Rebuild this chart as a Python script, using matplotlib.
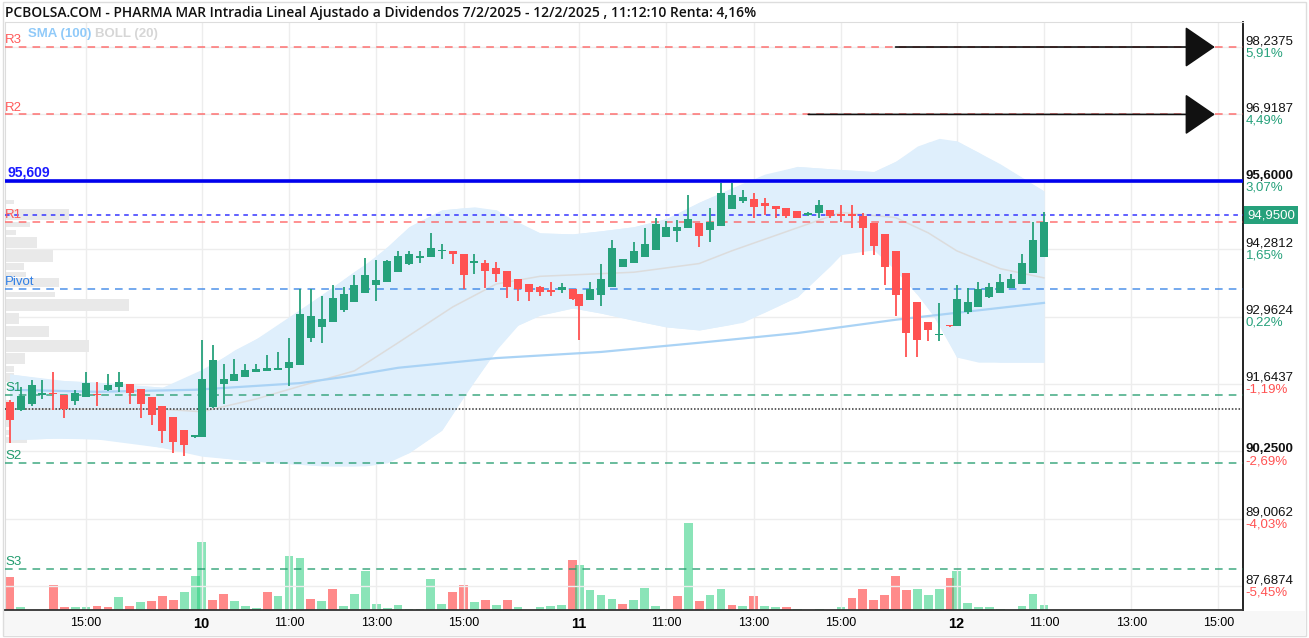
import matplotlib
matplotlib.use("Agg")
import matplotlib.pyplot as plt
from matplotlib import transforms
from matplotlib.patches import Rectangle
from matplotlib.patches import ArrowStyle
import numpy as np

TITLE = "PCBOLSA.COM - PHARMA MAR Intradia Lineal Ajustado a Dividendos 7/2/2025 - 12/2/2025 , 11:12:10 Renta: 4,16%"

# trading days shown and their bars (15 min candles)
days = ['7', '10', '11', '12']
day_first_bar = ['13:15', '09:00', '09:00', '09:00']
day_bar_count = [18, 35, 35, 9]
SESSION_MIN = 519   # room one session takes on the axis, in minutes
BAR_MIN = 15

opens = [
    91.30, 91.13, 91.25, 91.43, 91.46, 91.42, 91.31, 91.39, 91.43, 91.53, 91.58, 91.64, 91.54, 91.39, 91.22, 90.99, 90.74, 90.60,
    90.61, 91.19, 91.65, 91.71, 91.78, 91.87, 91.89, 91.91, 91.95, 92.01, 92.54, 92.75, 92.86, 93.09, 93.24, 93.42, 93.58, 93.64,
    93.83, 93.99, 94.10, 94.12, 94.24, 94.24, 94.19, 94.01, 94.02, 93.91, 93.86, 93.70, 93.60, 93.54, 93.46, 93.49, 93.51,
    93.41, 93.29, 93.38, 93.55, 93.93, 94.01, 94.13, 94.27, 94.51, 94.64, 94.69, 94.79, 94.66, 94.73, 95.07, 95.22, 95.26, 95.19,
    95.13, 95.09, 95.02, 94.95, 94.98, 95.04, 94.95, 94.97, 94.94, 94.80, 94.57, 94.25, 93.81, 93.24, 92.86, 92.60, 92.80,
    92.78, 93.06, 93.14, 93.35, 93.43, 93.53, 93.60, 93.82, 94.13]
highs = [
    91.32, 91.59, 91.72, 91.72, 91.88, 91.42, 91.53, 91.88, 91.69, 91.84, 91.88, 91.64, 91.54, 91.39, 91.22, 90.99, 90.74, 90.65,
    92.50, 92.41, 92.03, 92.13, 92.03, 92.03, 92.21, 92.27, 92.54, 93.50, 93.50, 93.37, 93.58, 93.54, 93.77, 94.11, 94.07, 94.06,
    94.25, 94.25, 94.25, 94.59, 94.38, 94.24, 94.19, 94.18, 94.07, 94.03, 93.86, 93.70, 93.60, 93.56, 93.64, 93.61, 93.51,
    93.41, 93.64, 93.99, 94.47, 94.09, 94.42, 94.69, 94.89, 94.83, 94.85, 95.34, 94.79, 95.08, 95.57, 95.57, 95.43, 95.38, 95.28,
    95.13, 95.09, 95.02, 95.00, 95.24, 95.04, 95.15, 95.15, 94.98, 94.80, 94.57, 94.25, 93.81, 93.24, 92.86, 93.22, 92.80,
    93.58, 93.52, 93.64, 93.61, 93.79, 93.79, 94.19, 94.82, 95.00]
lows = [
    90.49, 91.11, 91.22, 91.35, 91.13, 90.98, 91.24, 91.39, 91.21, 91.51, 91.49, 91.26, 90.98, 90.84, 90.49, 90.29, 90.23, 90.58,
    90.61, 91.17, 91.26, 91.71, 91.77, 91.87, 91.89, 91.91, 91.61, 92.01, 92.47, 92.44, 92.86, 93.06, 93.24, 93.42, 93.27, 93.64,
    93.83, 93.98, 94.02, 94.12, 94.08, 93.99, 93.50, 93.79, 93.53, 93.64, 93.32, 93.27, 93.27, 93.36, 93.36, 93.42, 93.28,
    92.50, 93.29, 93.17, 93.55, 93.93, 94.01, 94.13, 94.27, 94.51, 94.42, 94.69, 94.33, 94.42, 94.73, 95.07, 95.18, 94.89, 94.95,
    94.89, 94.89, 94.89, 94.93, 94.89, 94.89, 94.82, 94.69, 94.17, 94.17, 93.58, 92.97, 92.18, 92.18, 92.49, 92.49, 92.75,
    92.78, 93.02, 93.14, 93.32, 93.43, 93.53, 93.60, 93.82, 94.13]
closes = [
    90.94, 91.41, 91.62, 91.47, 91.44, 91.16, 91.47, 91.67, 91.42, 91.62, 91.69, 91.47, 91.26, 91.04, 90.73, 90.50, 90.45, 90.65,
    91.74, 92.11, 91.74, 91.84, 91.91, 91.93, 91.96, 91.96, 92.08, 93.01, 92.98, 92.92, 93.33, 93.40, 93.58, 93.77, 93.68, 94.05,
    94.14, 94.19, 94.14, 94.30, 94.26, 94.19, 93.77, 94.05, 93.85, 93.80, 93.55, 93.50, 93.44, 93.44, 93.45, 93.55, 93.30,
    93.17, 93.50, 93.70, 94.31, 94.09, 94.24, 94.38, 94.78, 94.72, 94.72, 94.87, 94.53, 94.82, 95.39, 95.35, 95.31, 95.10, 95.13,
    95.06, 94.94, 94.90, 94.98, 95.15, 94.93, 94.93, 94.94, 94.69, 94.34, 93.93, 93.39, 92.65, 92.50, 92.70, 92.62, 92.77,
    93.30, 93.25, 93.50, 93.54, 93.63, 93.70, 94.02, 94.46, 94.82]

# volume (relative units) and its colour per bar: G up, R down
volumes = [
    32.7, 2.7, 0, 0, 25.3, 2.7, 2.7, 2.7, 4, 2.7, 12.7, 4, 7.7, 9.3, 14, 10.3, 17.7, 34,
    67.7, 10.3, 16.3, 9, 4, 1.7, 18, 14, 54, 52.3, 11.3, 9, 21.3, 3.7, 16.3, 38.7, 6, 2.3, 4.7, 1.3, 1.3, 31.3,
    6, 18, 25, 7.7, 10, 4.7, 10, 2.7, 0, 2.7, 3.7, 4.7, 50,
    45.3, 20, 14.7, 11, 6, 10, 22.3, 3.7, 1.3, 13.7, 87.3, 8.7, 14.7, 21, 5, 3.7, 13.7, 3.7, 2.7, 2.7, 1.3, 0,
    1.3, 0, 2.7, 12.3, 21.3, 10, 15, 33.7, 20, 21.3, 15, 21.3, 32.3,
    39.3, 7.3, 2.7, 2.7, 1.3, 0, 3.7, 16, 5]
vol_dir = ("RGGGRRGGRRGRGRRRGG"
           "GRRGGGRGGGRGRGGGGGGGGGGRRGRGRGGGGGR"
           "GGGGRGGGGRGRGGRGRGGRGGGGGRRRRRRGGGR"
           "GGGGGGGGG")

# Bollinger (20) and SMA (100), read at some bars (bar number -> price)
boll_up_bar = [0, 4, 8, 14, 17, 21, 24, 27, 30, 32, 34, 37, 40, 43, 45, 47, 49, 52, 55, 58, 61, 64, 67, 70, 73, 77, 80, 82, 84, 86, 88, 92, 96]
boll_up = [91.84, 91.72, 91.68, 91.58, 91.80, 92.31, 92.64, 93.09, 93.54, 93.85, 94.13, 94.72, 95.05, 95.11, 95.05, 94.79, 94.60,
           94.58, 94.64, 94.72, 94.88, 95.20, 95.48, 95.75, 95.90, 95.84, 95.80, 96.00, 96.30, 96.45, 96.40, 95.95, 95.42]
boll_lo_bar = [0, 5, 10, 14, 18, 23, 29, 33, 35, 37, 40, 42, 45, 46, 49, 52, 55, 58, 61, 64, 68, 73, 76, 78, 80, 82, 85, 88, 90, 96]
boll_lo = [90.55, 90.59, 90.55, 90.40, 90.23, 90.13, 90.04, 90.04, 90.10, 90.30, 90.74, 91.40, 92.31, 92.70, 92.99, 93.13, 93.03,
           92.89, 92.76, 92.70, 92.85, 93.35, 93.95, 94.40, 94.27, 93.87, 93.15, 92.17, 92.07, 92.07]
boll_mid_bar = [0, 5, 14, 18, 23, 27, 32, 36, 41, 45, 49, 58, 64, 67, 73, 77, 82, 85, 88, 92, 96]
boll_mid = [91.15, 91.15, 91.15, 91.10, 91.35, 91.60, 91.90, 92.45, 93.15, 93.60, 93.75, 93.83, 94.00, 94.25, 94.70, 95.00,
            94.90, 94.60, 94.25, 93.90, 93.72]
sma_bar = [0, 8, 17, 27, 31, 36, 45, 55, 64, 73, 82, 96]
sma100 = [91.53, 91.49, 91.53, 91.66, 91.78, 91.96, 92.15, 92.27, 92.45, 92.64, 92.90, 93.23]

# volume at price profile (left side)
vp_price = [95.20, 94.96, 94.76, 94.61, 94.41, 94.15, 93.94, 93.78, 93.63, 93.39, 93.19, 92.93, 92.67, 92.39, 92.14,
            91.94, 91.77, 91.23, 90.90, 90.70, 90.55]
vp_height = [0.08, 0.21, 0.10, 0.10, 0.21, 0.23, 0.14, 0.10, 0.18, 0.10, 0.23, 0.21, 0.21, 0.23, 0.21,
             0.12, 0.17, 0.19, 0.19, 0.10, 0.12]
vp_size = [9, 64, 25, 11, 32, 48, 19, 21, 54, 50, 124, 14, 44, 84, 20, 9, 9, 39, 23, 10, 22]

# pivot levels
levels = [('R3', 98.2375, '#ff5a5a'), ('R2', 96.92, '#ff5a5a'), ('R1', 94.82, '#ff5a5a'),
          ('Pivot', 93.50, '#2f7fe6'), ('S1', 91.43, '#1f9a6c'), ('S2', 90.10, '#1f9a6c'), ('S3', 88.02, '#1f9a6c')]
max_line = 95.609
last_price = 94.95
prev_close = 91.15

# right axis labels
rt_values = [98.2375, 96.9187, 95.6000, 94.2812, 92.9624, 91.6437, 90.2500, 89.0062, 87.6874]
rt_labels = ['98,2375', '96,9187', '95,6000', '94,2812', '92,9624', '91,6437', '90,2500', '89,0062', '87,6874']
rt_pct = ['5,91%', '4,49%', '3,07%', '1,65%', '0,22%', '-1,19%', '-2,69%', '-4,03%', '-5,45%']
rt_bold = [False, False, True, False, False, False, True, False, False]
grid_prices = [98.2375, 96.9187, 95.6000, 94.2812, 92.9624, 91.6437, 90.3249, 89.0062, 87.6874]

# time axis ticks (day index, time, text)
xticks = [(0, '15:00', '15:00'), (1, '09:00', '10'), (1, '11:00', '11:00'), (1, '13:00', '13:00'), (1, '15:00', '15:00'),
          (2, '09:00', '11'), (2, '11:00', '11:00'), (2, '13:00', '13:00'), (2, '15:00', '15:00'),
          (3, '09:00', '12'), (3, '11:00', '11:00'), (3, '13:00', '13:00'), (3, '15:00', '15:00')]

# target arrows: (price, start day, start time, end day, end time)
arrows = [(98.2375, 2, '16:15', 3, '14:55'), (96.9187, 2, '14:15', 3, '14:55')]

GREEN = '#26a17b'
RED = '#ff5252'


def to_x(day, hhmm):
    h, m = map(int, hhmm.split(':'))
    return (day - 1) * SESSION_MIN + (h * 60 + m - 540)


bar_x = []
for d, (first, n) in enumerate(zip(day_first_bar, day_bar_count)):
    x0 = to_x(d, first)
    bar_x += [x0 + BAR_MIN * k for k in range(n)]
bar_x = np.array(bar_x, dtype=float)

o, h, l, c = map(np.array, (opens, highs, lows, closes))
up = c >= o

W, H = 1309, 638
fig = plt.figure(figsize=(W / 100, H / 100), dpi=100)
rect = [5 / W, 28 / H, 1238 / W, 588 / H]
ax = fig.add_axes(rect)
axv = ax.twinx()
ax.set_zorder(axv.get_zorder() + 1)
ax.patch.set_visible(False)

ax.set_xlim(-270.5, 1431.7)
ax.set_ylim(87.22, 98.727)

# background bits
fig.patches.append(Rectangle((4 / W, 3 / H), 1301 / W, 24 / H, transform=fig.transFigure,
                             facecolor='#f7f7f7', edgecolor='none', zorder=-5))
fig.patches.append(Rectangle((3 / W, 2 / H), 1303 / W, 634 / H, transform=fig.transFigure,
                             facecolor='none', edgecolor='#dddddd', lw=1, zorder=-4))

# grid
for gp in grid_prices:
    ax.axhline(gp, color='#ededed', lw=1, zorder=0)
tick_x = [to_x(d, t) for d, t, _ in xticks]
for tx in tick_x:
    ax.axvline(tx, color='#ededed', lw=1, zorder=0)

# volume profile
vp_tr = transforms.blended_transform_factory(ax.transAxes, ax.transData)
for p, hh, s in zip(vp_price, vp_height, vp_size):
    ax.add_patch(Rectangle((0, p - hh / 2), s / 1238, hh, transform=vp_tr,
                           facecolor='#e9e9e9', edgecolor='none', zorder=0.5))

# bollinger + sma
ax.fill_between(bar_x[boll_up_bar], boll_up, np.interp(boll_up_bar, boll_lo_bar, boll_lo),
                color='#dfeffc', lw=0, zorder=1)
ax.fill_between(bar_x[boll_lo_bar], np.interp(boll_lo_bar, boll_up_bar, boll_up), boll_lo,
                color='#dfeffc', lw=0, zorder=1)
ax.plot(bar_x[boll_mid_bar], boll_mid, color='#dcdcdc', lw=1.1, zorder=2)
ax.plot(bar_x[sma_bar], sma100, color='#aad3f5', lw=1.6, zorder=2)

# volume
vcol = ['#2bcf7f' if v == 'G' else '#ff2a2a' for v in vol_dir]
axv.bar(bar_x, volumes, width=12, color=vcol, alpha=0.55, lw=0)
axv.set_ylim(0, 588)
axv.axis('off')

# levels
for name, val, col in levels:
    ax.axhline(val, color=col, lw=1.1, dashes=(5, 4), alpha=0.85, zorder=3)
    ax.annotate(name, xy=(0, val), xycoords=('axes fraction', 'data'), xytext=(0, 0.5),
                textcoords='offset points', ha='left', va='bottom', color=col,
                fontsize=9.5, family='Liberation Sans', zorder=6)
ax.axhline(last_price, color='#3535ff', lw=1.1, dashes=(3, 3), zorder=3)
ax.axhline(prev_close, color='#333333', lw=1.1, dashes=(1, 1.2), zorder=3)
ax.axhline(max_line, color='#0000ee', lw=2.6, zorder=4)
ax.annotate('95,609', xy=(0, max_line), xycoords=('axes fraction', 'data'), xytext=(2, 1),
            textcoords='offset points', ha='left', va='bottom', color='#1a1aff',
            fontsize=10, fontweight='bold', family='Liberation Sans', zorder=6)

# candles
cols = np.where(up, GREEN, RED)
ax.vlines(bar_x, l, h, colors=cols, lw=1.3, zorder=4)
body_lo = np.minimum(o, c)
body_h = np.maximum(np.abs(c - o), 0.03)
ax.bar(bar_x, body_h, bottom=body_lo, width=11, color=cols, lw=0, zorder=5)

# target arrows
for val, d0, t0, d1, t1 in arrows:
    ax.annotate('', xy=(to_x(d1, t1), val), xytext=(to_x(d0, t0), val),
                arrowprops=dict(arrowstyle=ArrowStyle('-|>', head_length=19.4, head_width=13.3),
                                mutation_scale=1, color='#111111', lw=1.2, shrinkA=0, shrinkB=0),
                zorder=7)

# legend text
fig.text(28 / W, 1 - 34 / H, 'SMA (100)', color='#90caf9', fontsize=9.5, fontweight='bold',
         family='Liberation Sans', va='center')
fig.text(95 / W, 1 - 34 / H, 'BOLL (20)', color='#d6d6d6', fontsize=9.5, fontweight='bold',
         family='Liberation Sans', va='center')

# title
fig.text(5 / W, 1 - 13 / H, TITLE, fontsize=10, fontweight='semibold', family='Open Sans',
         va='center', ha='left', color='#111111')

# right labels
for v, lab, pct, b in zip(rt_values, rt_labels, rt_pct, rt_bold):
    ax.annotate(lab, xy=(1, v), xycoords=('axes fraction', 'data'), xytext=(2, 0),
                textcoords='offset points', ha='left', va='bottom', fontsize=9.5,
                fontweight='bold' if b else 'normal', family='Liberation Sans', color='#111111')
    ax.annotate(pct, xy=(1, v), xycoords=('axes fraction', 'data'), xytext=(2, 0),
                textcoords='offset points', ha='left', va='top', fontsize=9.5,
                family='Liberation Sans', color=RED if pct.startswith('-') else GREEN)
ax.annotate('94,9500', xy=(1, last_price), xycoords=('axes fraction', 'data'), xytext=(3, 0),
            textcoords='offset points', ha='left', va='center', fontsize=9.5, color='white',
            family='Liberation Sans',
            bbox=dict(boxstyle='square,pad=0.25', fc=GREEN, ec='none'))

# x axis
ax.set_xticks(tick_x)
ax.set_xticklabels([t for _, _, t in xticks], family='Liberation Sans', fontsize=9)
for lab, (_, _, t) in zip(ax.get_xticklabels(), xticks):
    if ':' not in t:
        lab.set_fontweight('bold')
        lab.set_fontsize(10.5)
ax.tick_params(axis='x', length=0, pad=5)
ax.set_yticks([])

for s in ['left', 'top']:
    ax.spines[s].set_color('#dddddd')
ax.spines['right'].set_color('#111111')
ax.spines['right'].set_linewidth(1.3)
ax.spines['bottom'].set_color('#333333')
ax.spines['bottom'].set_linewidth(1.3)

fig.savefig('out.png', dpi=100)
